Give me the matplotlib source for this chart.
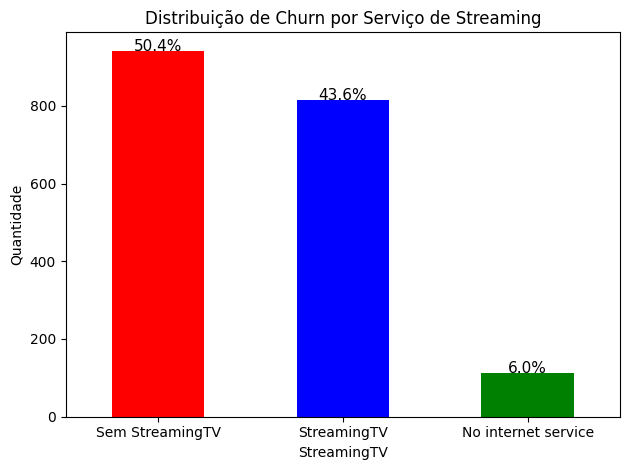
import matplotlib
matplotlib.use("Agg")
import matplotlib.pyplot as plt
import pandas as pd

categorias = ['Sem StreamingTV', 'StreamingTV', 'No internet service']
quantidade = [942, 814, 113]
cores = ['red', 'blue', 'green']

contagem = pd.Series(quantidade, index=pd.Index(categorias, name='StreamingTV'))
total = contagem.sum()

fig, ax = plt.subplots(figsize=(6.4, 4.8), dpi=100)
contagem.plot(kind='bar', color=cores, ax=ax)

for p in ax.patches:
    pct = f'{100 * p.get_height() / total:.1f}%'
    ax.annotate(pct, (p.get_x() + p.get_width() / 2, p.get_height()),
                ha='center', fontsize=11)

ax.set_title('Distribuição de Churn por Serviço de Streaming')
ax.set_ylabel('Quantidade')
ax.set_xlabel('StreamingTV')
plt.xticks(rotation=0)
plt.tight_layout()
plt.savefig('out.png', bbox_inches='tight')
